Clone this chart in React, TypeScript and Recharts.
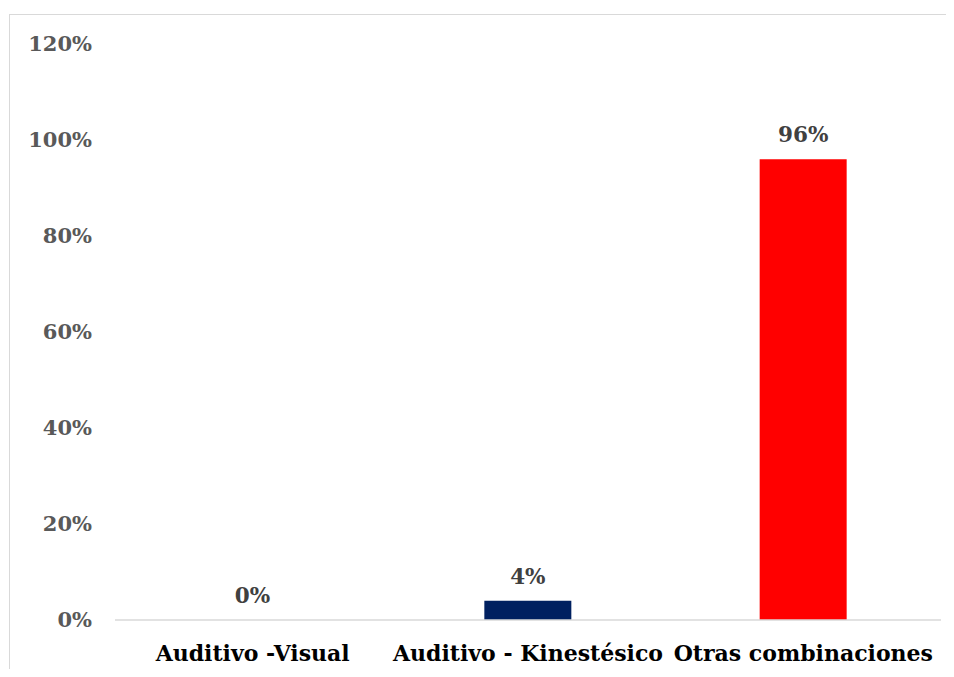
import { BarChart, Bar, XAxis, YAxis, LabelList, Cell } from 'recharts';

const categories = ['Auditivo -Visual', 'Auditivo - Kinestésico', 'Otras combinaciones'];
const values = [0, 0.04, 0.96];
const barColors = ['#002060', '#002060', '#FF0000'];
const yTicks = [0, 0.2, 0.4, 0.6, 0.8, 1.0, 1.2];

const chartData = categories.map((name, i) => ({ name, value: values[i] }));

const font = '"DejaVu Serif", serif';
const pct = (v: any) => `${Math.round(Number(v) * 100)}%`;

// draws the value label above each bar, including the zero-height one
const renderValueLabel = (props: any) => {
  const { x, y, width, value } = props;
  return (
    <text
      x={Number(x) + Number(width) / 2}
      y={Number(y) - 17}
      textAnchor="middle"
      fill="#404040"
      fontSize={21.5}
      fontWeight={700}
      fontFamily={font}
    >
      {pct(value)}
    </text>
  );
};

export default function App() {
  return (
    <div style={{ position: 'relative', margin: -8, width: 954, height: 677, overflow: 'hidden', background: '#fff' }}>
      {/* chart frame */}
      <div style={{
        position: 'absolute',
        left: 9,
        top: 14,
        width: 940,
        height: 700,
        border: '1px solid #d9d9d9',
        boxSizing: 'border-box',
      }} />
      <div style={{ position: 'absolute', left: 0, top: 0 }}>
        <BarChart
          width={954}
          height={677}
          data={chartData}
          margin={{ top: 44, right: 13, bottom: 0, left: 0 }}
        >
          <XAxis
            dataKey="name"
            axisLine={{ stroke: '#d9d9d9', strokeWidth: 1.5 }}
            tickLine={false}
            tickMargin={19}
            height={57}
            interval={0}
            tick={{ fill: '#000', fontSize: 22, fontWeight: 700, fontFamily: font }}
          />
          <YAxis
            domain={[0, 1.2]}
            ticks={yTicks}
            axisLine={false}
            tickLine={false}
            tickMargin={17}
            width={115}
            tickFormatter={pct}
            tick={{ fill: '#595959', fontSize: 21, fontWeight: 700, fontFamily: font }}
          />
          <Bar dataKey="value" barSize={87} minPointSize={0.001} isAnimationActive={false}>
            {chartData.map((d, i) => (
              <Cell key={`cell-${i}`} fill={barColors[i]} />
            ))}
            <LabelList dataKey="value" content={renderValueLabel} />
          </Bar>
        </BarChart>
      </div>
    </div>
  );
}
